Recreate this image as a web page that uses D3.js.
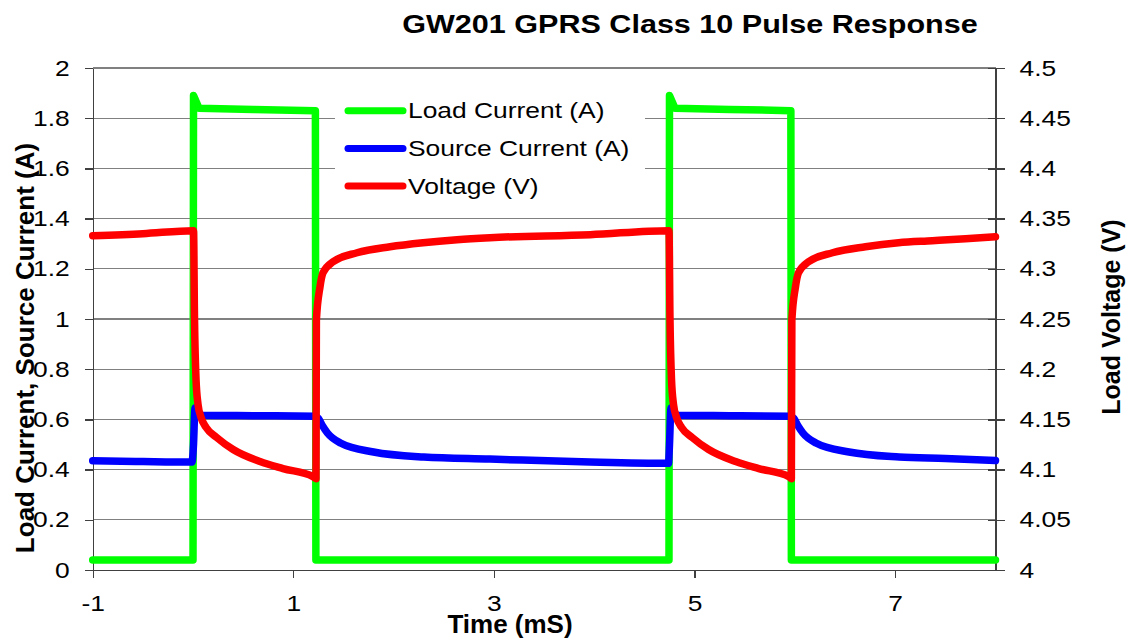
<!DOCTYPE html>
<meta charset="utf-8">
<style>
body { margin: 0; background: #fff; font-family: Arial, "Liberation Sans", sans-serif; }
.grid line { stroke: #808080; stroke-width: 1.3; shape-rendering: crispEdges; }
.axis path, .axis line { stroke: #404040; stroke-width: 1.3; fill: none; shape-rendering: crispEdges; }
.axis text { font-family: Arial, "Liberation Sans", sans-serif; font-size: 22px; fill: #000; }
.series { fill: none; stroke-width: 7.5; stroke-linejoin: round; stroke-linecap: round; }
</style>
<body>
<svg width="1132" height="639"></svg>
<script src="https://d3js.org/d3.v7.min.js"></script>
<script>

// time (ms) and load current (A)
var loadT = [-1, 0.0, 0.005, 0.06, 0.6, 1.22, 1.225, 4.745, 4.75, 4.805, 5.35, 5.96, 5.965, 8];
var loadI = [0.04, 0.04, 1.89, 1.84, 1.835, 1.83, 0.04, 0.04, 1.89, 1.84, 1.835, 1.83, 0.04, 0.04];

// time (ms) and source current (A)
var srcT = [-1, -0.5, -0.01, 0.005, 0.02, 0.08, 0.6, 1.22, 1.25, 1.29, 1.34, 1.47, 1.8, 2.3, 2.96, 3.96, 4.74,
            4.75, 4.765, 4.825, 5.35, 5.96, 5.99, 6.03, 6.08, 6.21, 6.54, 7.04, 7.5, 8];
var srcI = [0.435, 0.432, 0.43, 0.5, 0.645, 0.617, 0.615, 0.613, 0.604, 0.575, 0.546, 0.506, 0.47, 0.45, 0.442, 0.43, 0.425,
            0.5, 0.645, 0.617, 0.615, 0.613, 0.604, 0.575, 0.546, 0.506, 0.47, 0.45, 0.444, 0.436];

// time (ms) and load voltage (V)
var voltT = [-1, -0.5, 0.005, 0.015, 0.03, 0.05, 0.08, 0.13, 0.236, 0.4, 0.668, 0.897, 1.196, 1.226,
             1.23, 1.266, 1.296, 1.396, 1.635, 1.964, 2.293, 2.632, 2.961, 3.96, 4.745,
             4.755, 4.77, 4.79, 4.82, 4.87, 4.976, 5.14, 5.41, 5.64, 5.94, 5.965,
             5.97, 6.006, 6.036, 6.136, 6.375, 6.704, 7.033, 7.37, 7.7, 8];
var voltV = [4.333, 4.335, 4.338, 4.25, 4.19, 4.165, 4.152, 4.142, 4.132, 4.12, 4.108, 4.101, 4.093, 4.091,
             4.249, 4.282, 4.296, 4.307, 4.316, 4.322, 4.326, 4.329, 4.331, 4.334, 4.338,
             4.25, 4.19, 4.165, 4.152, 4.142, 4.132, 4.12, 4.108, 4.101, 4.093, 4.091,
             4.249, 4.282, 4.296, 4.307, 4.316, 4.322, 4.326, 4.328, 4.33, 4.332];

var leftTicks = [0, 0.2, 0.4, 0.6, 0.8, 1, 1.2, 1.4, 1.6, 1.8, 2];
var rightTicks = [4, 4.05, 4.1, 4.15, 4.2, 4.25, 4.3, 4.35, 4.4, 4.45, 4.5];
var xTicks = [-1, 1, 3, 5, 7];

var legendNames = ["Load Current (A)", "Source Current (A)", "Voltage (V)"];
var colors = ["#00ff00", "#0000ff", "#ff0000"];

var svg = d3.select("svg"),
    mLeft = 92.7, mRight = 995.5, mTop = 68, mBottom = 570,
    stretch = 1.2;   // the regular text in the picture is drawn wider than Arial

var x = d3.scaleLinear().domain([-1, 8]).range([mLeft, mRight]);
var y = d3.scaleLinear().domain([0, 2]).range([mBottom, mTop]);
var y2 = d3.scaleLinear().domain([4, 4.5]).range([mBottom, mTop]);

var fmt = function(d) { return String(+d.toFixed(2)); };

function widen(sel) {
    sel.selectAll(".tick text").each(function() {
        var t = d3.select(this);
        t.attr("x", (+t.attr("x") || 0) / stretch).attr("transform", "scale(" + stretch + ",1)");
    });
}

// gridlines
svg.append("g").attr("class", "grid")
    .selectAll("line").data(leftTicks.slice(1)).enter().append("line")
    .attr("x1", mLeft).attr("x2", mRight)
    .attr("y1", function(d) { return y(d); })
    .attr("y2", function(d) { return y(d); });

// axes
svg.append("g").attr("class", "axis")
    .attr("transform", "translate(" + mLeft + ",0)")
    .call(d3.axisLeft(y).tickValues(leftTicks).tickFormat(fmt).tickSize(8).tickSizeOuter(0).tickPadding(15))
    .call(widen);

var ax2 = svg.append("g").attr("class", "axis")
    .attr("transform", "translate(" + mRight + ",0)")
    .call(d3.axisRight(y2).tickValues(rightTicks).tickFormat(fmt).tickSize(9).tickSizeOuter(0).tickPadding(15))
    .call(widen);
ax2.selectAll(".tick line").attr("x1", -8);

svg.append("g").attr("class", "axis")
    .attr("transform", "translate(0," + mBottom + ")")
    .call(d3.axisBottom(x).tickValues(xTicks).tickFormat(fmt).tickSize(8).tickSizeOuter(0).tickPadding(17))
    .call(widen);

// series
function series(ts, vs, sy) {
    return ts.map(function(t, i) { return [x(t), sy(vs[i])]; });
}
var data = [series(loadT, loadI, y), series(srcT, srcI, y), series(voltT, voltV, y2)];
var curves = [d3.line(), d3.line().curve(d3.curveMonotoneX), d3.line().curve(d3.curveMonotoneX)];

svg.selectAll(".series").data(data).enter().append("path")
    .attr("class", "series")
    .attr("stroke", function(d, i) { return colors[i]; })
    .attr("d", function(d, i) { return curves[i](d); });

// legend
var lg = svg.append("g").attr("transform", "translate(335,92)");
lg.append("rect").attr("width", 310).attr("height", 112).attr("fill", "#fff");
var items = lg.selectAll(".item").data(legendNames).enter().append("g")
    .attr("transform", function(d, i) { return "translate(0," + (18.7 + i * 37.7) + ")"; });
items.append("line")
    .attr("x1", 13).attr("x2", 68)
    .attr("stroke", function(d, i) { return colors[i]; })
    .attr("stroke-width", 7).attr("stroke-linecap", "round");
items.append("text")
    .attr("transform", "translate(73,0) scale(" + stretch + ",1)")
    .attr("dy", "0.35em")
    .style("font-size", "22px")
    .text(function(d) { return d; });

// titles
svg.append("text")
    .attr("transform", "translate(690,33) scale(1.175,1)")
    .attr("text-anchor", "middle")
    .style("font-size", "26px").style("font-weight", "bold")
    .text("GW201 GPRS Class 10 Pulse Response");

svg.append("text")
    .attr("x", 510).attr("y", 633)
    .attr("text-anchor", "middle")
    .style("font-size", "26px").style("font-weight", "bold")
    .text("Time (mS)");

svg.append("text")
    .attr("transform", "translate(34,348) rotate(-90)")
    .attr("text-anchor", "middle")
    .style("font-size", "26px").style("font-weight", "bold")
    .text("Load Current, Source Current (A)");

svg.append("text")
    .attr("transform", "translate(1120,317) rotate(-90)")
    .attr("text-anchor", "middle")
    .style("font-size", "25px").style("font-weight", "bold")
    .text("Load Voltage (V)");

</script>
